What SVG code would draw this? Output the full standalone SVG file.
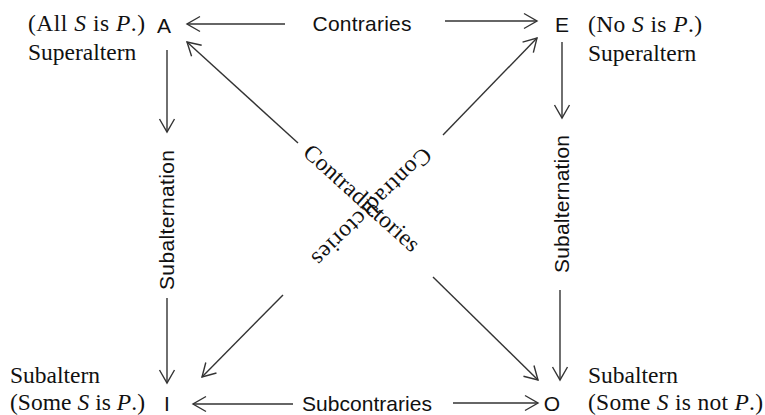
<svg xmlns="http://www.w3.org/2000/svg" width="765" height="415" viewBox="0 0 765 415">
<defs>
<marker id="ah" markerUnits="userSpaceOnUse" markerWidth="30" markerHeight="30" viewBox="-15 -15 30 30" refX="0" refY="0" orient="auto">
<path d="M-13,-7.5 L0,0 L-13,7.5" fill="none" stroke="#333" stroke-width="1.4"/>
</marker>
<style>
.ln{stroke:#333;stroke-width:1.4;fill:none;marker-end:url(#ah)}
.sf{font-family:"Liberation Serif","Times New Roman",serif;font-size:23.5px;fill:#111}
.ss{font-family:"Liberation Sans",Arial,sans-serif;font-size:21px;fill:#111}
.it{font-style:italic}
</style>
</defs>
<rect width="765" height="415" fill="#fff"/>
<g id="connectors">
<line class="ln" x1="285" y1="24" x2="187" y2="24"/>
<line class="ln" x1="445" y1="21" x2="537" y2="21"/>
<line class="ln" x1="293" y1="404" x2="193" y2="404"/>
<line class="ln" x1="453" y1="403" x2="538" y2="403"/>
<line class="ln" x1="167" y1="50" x2="167" y2="132"/>
<line class="ln" x1="167" y1="298" x2="167" y2="383"/>
<line class="ln" x1="562" y1="42" x2="562" y2="118"/>
<line class="ln" x1="560" y1="290" x2="560" y2="380"/>
<line class="ln" x1="298" y1="143" x2="187" y2="42"/>
<line class="ln" x1="443" y1="135" x2="537" y2="38"/>
<line class="ln" x1="283" y1="295" x2="202" y2="377"/>
<line class="ln" x1="433" y1="277" x2="538" y2="380"/>
<text class="ss" x="362" y="31" text-anchor="middle" textLength="99">Contraries</text>
<text class="ss" x="367" y="411" text-anchor="middle" textLength="130">Subcontraries</text>
<text class="ss" transform="translate(167,220) rotate(-90)" x="0" y="7" text-anchor="middle" textLength="140">Subalternation</text>
<text class="ss" transform="translate(562,204) rotate(-90)" x="0" y="7" text-anchor="middle" textLength="138">Subalternation</text>
<text class="sf" transform="translate(360,200) rotate(42)" x="0" y="5" text-anchor="middle" textLength="148">Contradictories</text>
<text class="sf" transform="translate(370,205) rotate(135.5)" x="0" y="5" text-anchor="middle" textLength="158">Contradictories</text>
</g>
<g id="nodeA">
<text class="ss" x="164" y="33" text-anchor="middle">A</text>
<text class="sf" x="28" y="31" textLength="117">(All <tspan class="it">S</tspan> is <tspan class="it">P</tspan>.)</text>
<text class="sf" x="28" y="60">Superaltern</text>
</g>
<g id="nodeE">
<text class="ss" x="562" y="32" text-anchor="middle">E</text>
<text class="sf" x="588" y="32" textLength="114">(No <tspan class="it">S</tspan> is <tspan class="it">P</tspan>.)</text>
<text class="sf" x="588" y="61">Superaltern</text>
</g>
<g id="nodeI">
<text class="ss" x="167" y="411" text-anchor="middle">I</text>
<text class="sf" x="10" y="383">Subaltern</text>
<text class="sf" x="10" y="410" textLength="135">(Some <tspan class="it">S</tspan> is <tspan class="it">P</tspan>.)</text>
</g>
<g id="nodeO">
<text class="ss" x="552" y="411" text-anchor="middle">O</text>
<text class="sf" x="588" y="383">Subaltern</text>
<text class="sf" x="588" y="410" textLength="175">(Some <tspan class="it">S</tspan> is not <tspan class="it">P</tspan>.)</text>
</g>
</svg>
